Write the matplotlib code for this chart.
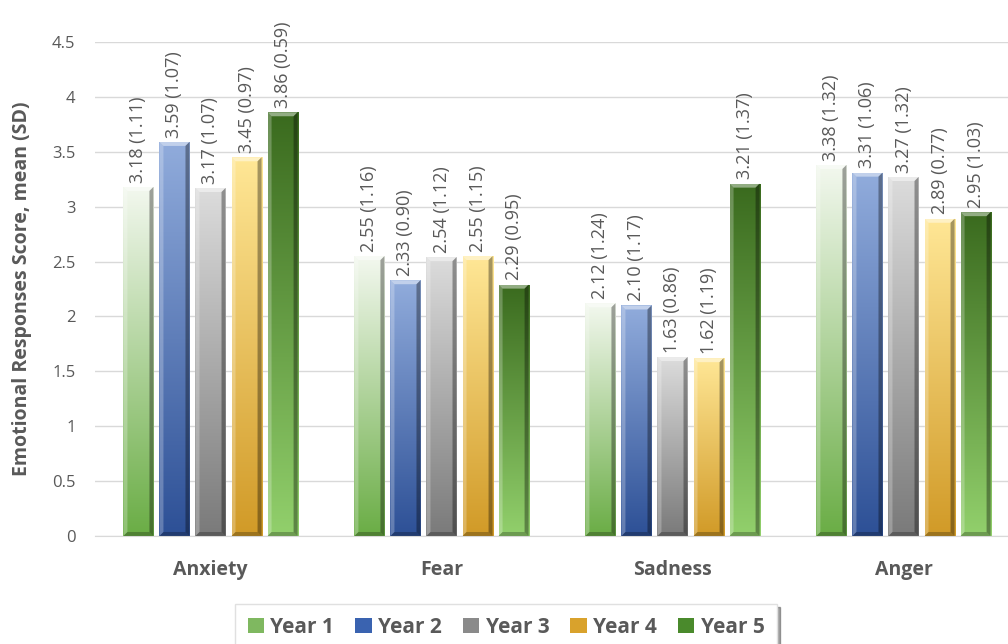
"""Emotional responses by year: grouped bar chart with gradient, bevelled bars."""

import numpy as np
import matplotlib.pyplot as plt
from matplotlib.colors import LinearSegmentedColormap
from matplotlib.patches import Rectangle, Polygon, Patch

categories = ["Anxiety", "Fear", "Sadness", "Anger"]
series = ["Year 1", "Year 2", "Year 3", "Year 4", "Year 5"]
means = {
    "Year 1": [3.18, 2.55, 2.12, 3.38],
    "Year 2": [3.59, 2.33, 2.10, 3.31],
    "Year 3": [3.17, 2.54, 1.63, 3.27],
    "Year 4": [3.45, 2.55, 1.62, 2.89],
    "Year 5": [3.86, 2.29, 3.21, 2.95],
}
sds = {
    "Year 1": ["1.11", "1.16", "1.24", "1.32"],
    "Year 2": ["1.07", "0.90", "1.17", "1.06"],
    "Year 3": ["1.07", "1.12", "0.86", "1.32"],
    "Year 4": ["0.97", "1.15", "1.19", "0.77"],
    "Year 5": ["0.59", "0.95", "1.37", "1.03"],
}
# (top colour, bottom colour) of each bar's gradient
gradients = {
    "Year 1": ("#f3f8ef", "#6aad45"),
    "Year 2": ("#91acdc", "#2d5096"),
    "Year 3": ("#dcdcdc", "#7a7a7a"),
    "Year 4": ("#ffe796", "#d19a27"),
    "Year 5": ("#3a6a1e", "#92d06c"),
}
legend_colors = {
    "Year 1": "#7fb860",
    "Year 2": "#3a63b0",
    "Year 3": "#8a8a8a",
    "Year 4": "#d9a22c",
    "Year 5": "#4a8a2c",
}

grey = "#595959"
plt.rcParams["font.family"] = ["Open Sans", "DejaVu Sans"]

fig = plt.figure(figsize=(10.08, 6.44), dpi=100)
ax = fig.add_axes([95 / 1008, 108 / 644, 924 / 1008, 494 / 644])
ax.set_xlim(-0.5, 3.5)
ax.set_ylim(0, 4.5)

bar_w = 0.13
pitch = 0.156
bx = 4 / 231   # bevel width in x units
by = 4 / 109.8  # bevel height in y units
grad = np.linspace(0, 1, 256).reshape(-1, 1)

for i, name in enumerate(series):
    cmap = LinearSegmentedColormap.from_list(name, [gradients[name][1], gradients[name][0]])
    offset = (i - 2) * pitch
    for j, val in enumerate(means[name]):
        x0 = j + offset - bar_w / 2
        x1 = x0 + bar_w
        rect = Rectangle((x0, 0), bar_w, val, facecolor="none", edgecolor="none")
        ax.add_patch(rect)
        im = ax.imshow(grad, cmap=cmap, origin="lower", aspect="auto",
                       extent=(x0, x1, 0, val), zorder=2)
        im.set_clip_path(rect)
        # bevel: light top and left, dark right and bottom
        ax.add_patch(Polygon([(x0, val), (x1, val), (x1 - bx, val - by), (x0 + bx, val - by)],
                             closed=True, facecolor="white", alpha=0.45, lw=0, zorder=3))
        ax.add_patch(Polygon([(x0, 0), (x0, val), (x0 + bx, val - by), (x0 + bx, by)],
                             closed=True, facecolor="white", alpha=0.25, lw=0, zorder=3))
        ax.add_patch(Polygon([(x1, 0), (x1, val), (x1 - bx, val - by), (x1 - bx, by)],
                             closed=True, facecolor="black", alpha=0.35, lw=0, zorder=3))
        ax.add_patch(Polygon([(x0, 0), (x1, 0), (x1 - bx, by), (x0 + bx, by)],
                             closed=True, facecolor="black", alpha=0.25, lw=0, zorder=3))
        ax.text(j + offset, val + 0.04, f"{val:.2f} ({sds[name][j]})", rotation=90,
                ha="center", va="bottom", fontsize=13, color=grey, clip_on=False, zorder=4)

ax.set_xticks(range(len(categories)))
ax.set_xticklabels(categories, fontsize=14, fontweight="bold", color=grey)
ax.set_yticks(np.arange(0, 4.51, 0.5))
ax.set_yticklabels(["0", "0.5", "1", "1.5", "2", "2.5", "3", "3.5", "4", "4.5"],
                   fontsize=12, color=grey)
ax.tick_params(axis="both", length=0)
ax.tick_params(axis="x", pad=17)
ax.tick_params(axis="y", pad=14)
ax.grid(axis="y", color="#d9d9d9", lw=1, zorder=0)
ax.set_axisbelow(True)
for side in ["top", "right", "left"]:
    ax.spines[side].set_visible(False)
ax.spines["bottom"].set_color("#d9d9d9")

ax.set_ylabel("Emotional Responses Score, mean (SD)", fontsize=14, fontweight="bold",
              color=grey)
ax.yaxis.set_label_coords(-0.068, 0.5)

handles = [Patch(facecolor=legend_colors[s], edgecolor="none") for s in series]
leg = fig.legend(handles, series, loc="center", bbox_to_anchor=(0.502, 0.026), ncol=5,
                 frameon=True, shadow=True, fancybox=False, handlelength=0.8,
                 handleheight=0.8, handletextpad=0.3, columnspacing=1.0,
                 borderpad=0.6,
                 prop={"family": ["Open Sans", "DejaVu Sans"], "weight": "bold", "size": 15})
leg.get_frame().set_edgecolor("#e0e0e0")
for t in leg.get_texts():
    t.set_color(grey)

fig.savefig("out.png", dpi=100)
